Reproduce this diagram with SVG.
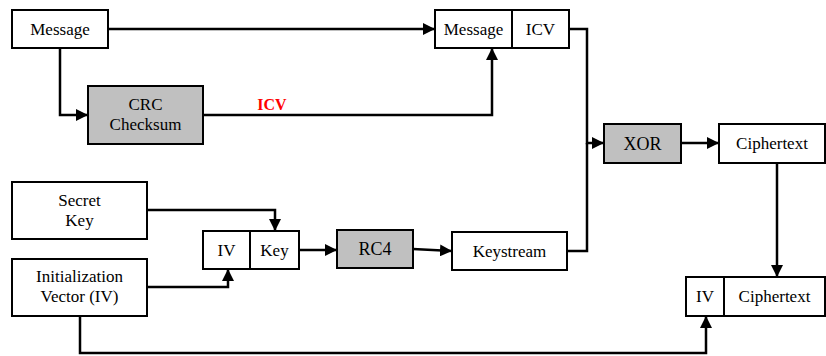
<svg xmlns="http://www.w3.org/2000/svg" width="826" height="356" viewBox="0 0 826 356">
  <style>
    .box { fill: #ffffff; stroke: #000000; stroke-width: 2; }
    .proc { fill: #c0c0c0; stroke: #000000; stroke-width: 2; }
    .div { stroke: #000000; stroke-width: 2; }
    .wire { fill: none; stroke: #000000; stroke-width: 2.5; stroke-linejoin: miter; }
  </style>
  <defs>
    <marker id="arrow" viewBox="0 0 12 12" refX="12" refY="6" markerWidth="12" markerHeight="12" markerUnits="userSpaceOnUse" orient="auto">
      <path d="M0,0 L12,6 L0,12 Z" fill="#000000"/>
    </marker>
  </defs>

  <g id="connectors">
    <path class="wire" d="M108,29 H435" marker-end="url(#arrow)"/>
    <path class="wire" d="M60,48 V115 H88" marker-end="url(#arrow)"/>
    <path class="wire" d="M203,115 H492 V48" marker-end="url(#arrow)"/>
    <path class="wire" d="M569,29 H587 V143 H604" marker-end="url(#arrow)"/>
    <path class="wire" d="M567,251 H587 V143"/>
    <path class="wire" d="M681,143 H719" marker-end="url(#arrow)"/>
    <path class="wire" d="M777,163 V277" marker-end="url(#arrow)"/>
    <path class="wire" d="M147,210 H275 V231" marker-end="url(#arrow)"/>
    <path class="wire" d="M147,287 H228 V269" marker-end="url(#arrow)"/>
    <path class="wire" d="M299,250 H337" marker-end="url(#arrow)"/>
    <path class="wire" d="M413,249 L452,251" marker-end="url(#arrow)"/>
    <path class="wire" d="M80,316 V353 H706 V316" marker-end="url(#arrow)"/>
    <text font-family="Liberation Serif" font-size="16" font-weight="bold" fill="#ff0000" text-anchor="middle" x="272" y="110">ICV</text>
  </g>

  <g id="message">
    <rect class="box" x="12" y="10" width="96" height="38"/>
    <text font-family="Liberation Serif" font-size="17" text-anchor="middle" x="60" y="35">Message</text>
  </g>

  <g id="crc">
    <rect class="proc" x="88" y="86" width="115" height="58"/>
    <text font-family="Liberation Serif" font-size="17" text-anchor="middle" x="145.5" y="110">CRC</text>
    <text font-family="Liberation Serif" font-size="17" text-anchor="middle" x="145.5" y="130">Checksum</text>
  </g>

  <g id="message-icv">
    <rect class="box" x="435" y="10" width="134" height="38"/>
    <line class="div" x1="512" y1="10" x2="512" y2="48"/>
    <text font-family="Liberation Serif" font-size="17" text-anchor="middle" x="473.5" y="35">Message</text>
    <text font-family="Liberation Serif" font-size="17" text-anchor="middle" x="540.5" y="35">ICV</text>
  </g>

  <g id="xor">
    <rect class="proc" x="604" y="124" width="77" height="39"/>
    <text font-family="Liberation Serif" font-size="18" text-anchor="middle" x="642.5" y="150">XOR</text>
  </g>

  <g id="ciphertext">
    <rect class="box" x="719" y="124" width="106" height="39"/>
    <text font-family="Liberation Serif" font-size="17" text-anchor="middle" x="772" y="149">Ciphertext</text>
  </g>

  <g id="secret-key">
    <rect class="box" x="12" y="182" width="135" height="57"/>
    <text font-family="Liberation Serif" font-size="17" text-anchor="middle" x="79.5" y="206">Secret</text>
    <text font-family="Liberation Serif" font-size="17" text-anchor="middle" x="79.5" y="226">Key</text>
  </g>

  <g id="init-vector">
    <rect class="box" x="12" y="259" width="135" height="57"/>
    <text font-family="Liberation Serif" font-size="17" text-anchor="middle" x="79.5" y="282">Initialization</text>
    <text font-family="Liberation Serif" font-size="17" text-anchor="middle" x="79.5" y="302">Vector (IV)</text>
  </g>

  <g id="iv-key">
    <rect class="box" x="203" y="231" width="96" height="38"/>
    <line class="div" x1="250" y1="231" x2="250" y2="269"/>
    <text font-family="Liberation Serif" font-size="17" text-anchor="middle" x="226.5" y="256">IV</text>
    <text font-family="Liberation Serif" font-size="17" text-anchor="middle" x="274.5" y="256">Key</text>
  </g>

  <g id="rc4">
    <rect class="proc" x="337" y="230" width="76" height="38"/>
    <text font-family="Liberation Serif" font-size="18" text-anchor="middle" x="375" y="255">RC4</text>
  </g>

  <g id="keystream">
    <rect class="box" x="452" y="232" width="115" height="38"/>
    <text font-family="Liberation Serif" font-size="17" text-anchor="middle" x="509.5" y="257">Keystream</text>
  </g>

  <g id="iv-ciphertext">
    <rect class="box" x="686" y="277" width="139" height="39"/>
    <line class="div" x1="724" y1="277" x2="724" y2="316"/>
    <text font-family="Liberation Serif" font-size="17" text-anchor="middle" x="705" y="302">IV</text>
    <text font-family="Liberation Serif" font-size="17" text-anchor="middle" x="774.5" y="302">Ciphertext</text>
  </g>
</svg>
